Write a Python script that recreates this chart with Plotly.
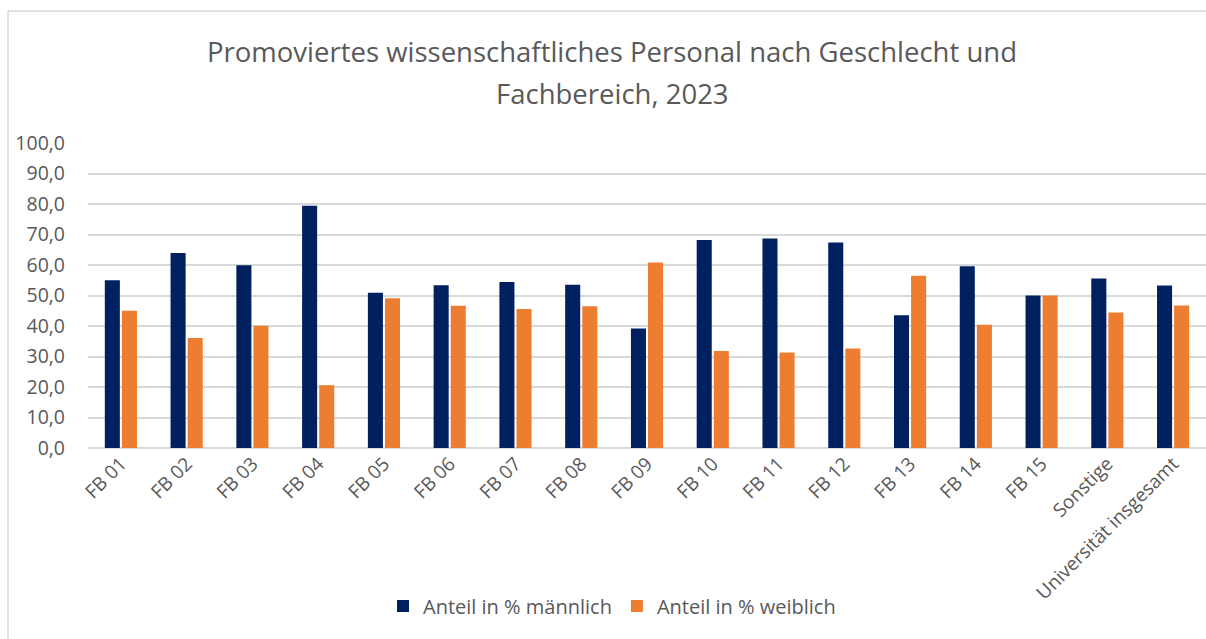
import plotly.graph_objects as go

categories = ["FB 01", "FB 02", "FB 03", "FB 04", "FB 05", "FB 06", "FB 07", "FB 08",
              "FB 09", "FB 10", "FB 11", "FB 12", "FB 13", "FB 14", "FB 15",
              "Sonstige", "Universität insgesamt"]
male = [55.0, 63.9, 59.9, 79.4, 50.9, 53.4, 54.4, 53.5, 39.2, 68.2, 68.7, 67.4,
        43.5, 59.6, 50.0, 55.6, 53.3]
female = [45.0, 36.1, 40.1, 20.6, 49.1, 46.6, 45.6, 46.5, 60.8, 31.8, 31.3, 32.6,
          56.5, 40.4, 50.0, 44.4, 46.7]
series_names = ["Anteil in % männlich", "Anteil in % weiblich"]
title_lines = ["Promoviertes wissenschaftliches Personal nach Geschlecht und",
               "Fachbereich, 2023"]
y_ticks = [0, 10, 20, 30, 40, 50, 60, 70, 80, 90, 100]

W, H = 1206, 639
# plot area in page coordinates: x 88..1206, y 143..448
L, R = 88, 0
T = 143
B = H - 448
pw, ph = W - L - R, H - T - B

def px_x(x):  # page x -> paper
    return (x - L) / pw

def px_y(y):  # page y -> paper
    return (H - B - y) / ph

FONT = "Open Sans"
GREY = "#595959"

fig = go.Figure()
fig.add_trace(go.Bar(x=categories, y=male, name=series_names[0],
                     marker=dict(color="#002060", line=dict(width=0))))
fig.add_trace(go.Bar(x=categories, y=female, name=series_names[1],
                     marker=dict(color="#ED7D31", line=dict(width=0))))

fig.update_layout(
    width=W, height=H,
    margin=dict(l=L, r=R, t=T, b=B),
    paper_bgcolor="white", plot_bgcolor="white",
    barmode="group", bargap=0.48, bargroupgap=0.12,
    separators=",.",
    font=dict(family=FONT, color=GREY, size=18),
    showlegend=True,
    legend=dict(orientation="h", x=px_x(612), xanchor="center",
                y=px_y(606), yanchor="middle",
                font=dict(size=20, color=GREY), itemwidth=30,
                traceorder="normal"),
    xaxis=dict(tickangle=-45, showgrid=False, showline=False, ticks="",
               tickfont=dict(size=19, color=GREY)),
    yaxis=dict(range=[0, 100], tickvals=y_ticks, tickformat=".1f",
               showgrid=True, gridcolor="#D9D9D9", gridwidth=1.5,
               zeroline=True, zerolinecolor="#D9D9D9", zerolinewidth=1.5,
               showline=False, ticks="", ticklabelstandoff=22,
               tickfont=dict(size=19.5, color=GREY)),
)

fig.add_annotation(text=title_lines[0], xref="paper", yref="paper",
                   x=px_x(612), y=px_y(52), xanchor="center", yanchor="middle",
                   showarrow=False, font=dict(size=27.5, color=GREY, family=FONT))
fig.add_annotation(text=title_lines[1], xref="paper", yref="paper",
                   x=px_x(612), y=px_y(93), xanchor="center", yanchor="middle",
                   showarrow=False, font=dict(size=27.5, color=GREY, family=FONT))

fig.add_shape(type="rect", xref="paper", yref="paper",
              x0=px_x(8), x1=px_x(1240), y0=px_y(700), y1=px_y(11),
              line=dict(color="#D9D9D9", width=1.5), fillcolor="rgba(0,0,0,0)",
              layer="below")

fig.write_html(
    "out.html",
    config={"displayModeBar": False},
    post_script="document.body.style.margin='0';document.body.style.overflow='hidden';",
)
